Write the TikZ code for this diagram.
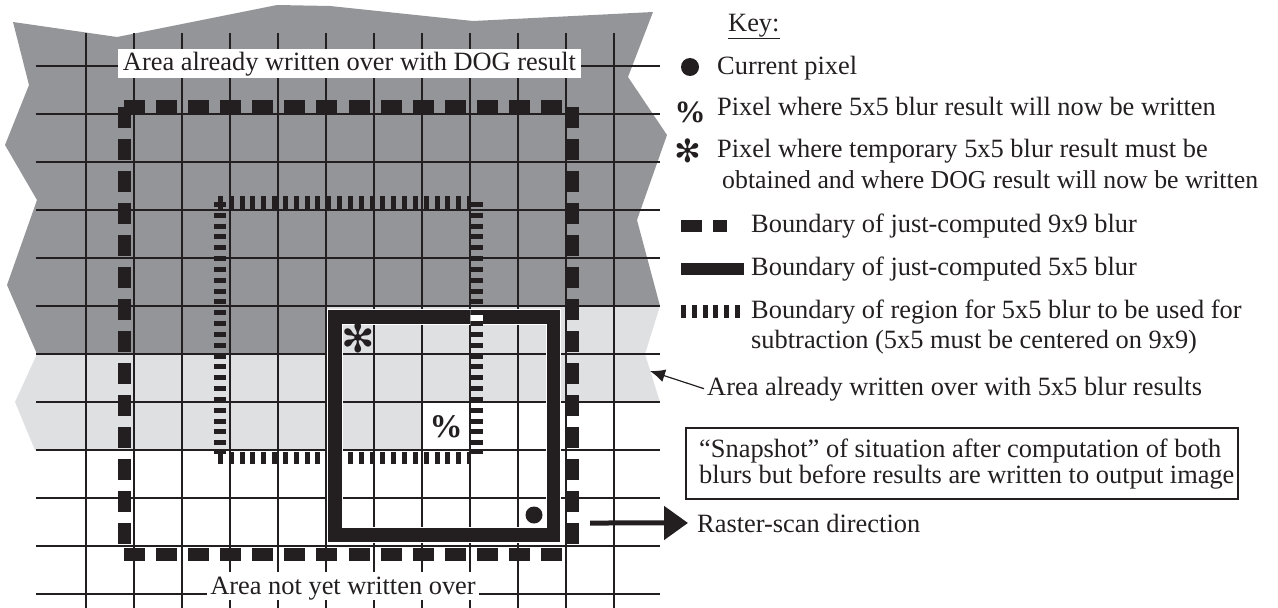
\documentclass[tikz,border=0pt]{standalone}
\usepackage{fontspec}
\setmainfont{Liberation Serif}
\newfontfamily\symfont{DejaVu Sans}
\usetikzlibrary{arrows.meta,calc}
\definecolor{ink}{HTML}{231F20}
\definecolor{dgray}{HTML}{939598}
\definecolor{lgray}{HTML}{DFE0E2}
\begin{document}
\begin{tikzpicture}[x=1pt,y=-1pt,
  every node/.style={inner sep=0pt, text=ink},
  txt/.style={font=\fontsize{26.4}{30}\selectfont, anchor=base west},
  gridline/.style={draw=ink, line width=1.4pt},
  ninebox/.style={draw=ink, line width=13pt, dash pattern=on 21pt off 11.08pt},
  ninevert/.style={draw=ink, line width=13pt, dash pattern=on 20.5pt off 11.5pt},
  hatchbox/.style={draw=ink, line width=12.5pt, dash pattern=on 5pt off 5.83pt},
  fivebox/.style={draw=ink, line width=13.5pt},
  whitelab/.style={txt, anchor=base, fill=white},
]
\useasboundingbox (0,0) rectangle (1278,608);

% shaded areas
\fill[dgray] (13,22) -- (117,37) -- (277,5) -- (330,6) -- (473,21) -- (653,12)
  -- (628,77) -- (667,135) -- (637,220) -- (660,306) -- (326,306) -- (326,354)
  -- (37,354) -- (7,285) -- (37,200) -- (5,145) -- (29,85) -- cycle;
\fill[lgray] (37,354) -- (326,354) -- (326,306) -- (660,306) -- (645,354)
  -- (660,402) -- (422,402) -- (422,450) -- (35,450) -- (15,402) -- cycle;

% grid
\foreach \x in {86,134,...,614} \draw[gridline] (\x,33) -- (\x,608);
\foreach \y in {66,114,...,594} \draw[gridline] (36,\y) -- (660,\y);

% 5x5 region centred on 9x9 (hatched)
\draw[hatchbox] (218,202.5) -- (470,202.5);
\draw[hatchbox] (218,458) -- (470,458);
\draw[hatchbox] (220,202) -- (220,454);
\draw[hatchbox] (476.5,202) -- (476.5,454);

% 9x9 boundary (dashed)
\draw[ninebox] (124,106.5) -- (562,106.5);
\draw[ninebox] (124,554.5) -- (562,554.5);
\draw[ninevert] (124.5,107) -- (124.5,544);
\draw[ninevert] (572.5,107) -- (572.5,544);

% 5x5 just computed (solid)
\draw[white, line width=15.5pt] (335,317) rectangle (553.5,535);
\draw[fivebox] (335,317) rectangle (553.5,535);
% hatched side passes over the top of the solid box
\begin{scope}
  \clip (470.25,309) rectangle (482.75,325);
  \fill[white] (470.25,309) rectangle (482.75,325);
  \draw[hatchbox] (476.5,202) -- (476.5,454);
\end{scope}

% symbols in grid
\node[font=\symfont\fontsize{40}{40}\selectfont] (ast) at (358,338) {✻};
\node[font=\bfseries\fontsize{33}{33}\selectfont] (pct) at (446,427) {\%};
\node[circle, fill=ink, minimum size=17pt] (cur) at (534,515) {};

% labels in grid
\node[whitelab, inner xsep=5pt, text height=21pt, text depth=8pt] (toplab) at (349.5,70) {Area already written over with DOG result};
\node[whitelab, inner xsep=3pt, text height=22pt, text depth=6pt] (botlab) at (343,594) {Area not yet written over};

% key
\node[txt] (keyt) at (728,31) {\underline{Key:}};
\node[circle, fill=ink, minimum size=18pt] (kdot) at (690,67) {};
\node[txt] (k1) at (717,74) {Current pixel};
\node[font=\bfseries\fontsize{31}{31}\selectfont] (kpct) at (690,112) {\%};
\node[txt] (k2) at (717,115) {Pixel where 5x5 blur result will now be written};
\node[font=\symfont\fontsize{32}{32}\selectfont] (kast) at (688,151) {✻};
\node[txt] (k3a) at (717,157) {Pixel where temporary 5x5 blur result must be};
\node[txt, font=\fontsize{25.8}{30}\selectfont] (k3b) at (722,188) {obtained and where DOG result will now be written};
\coordinate (k4s) at (681,226); \coordinate (k4e) at (727,226);
\draw[ninebox, line width=12.5pt] (k4s) -- (k4e);
\node[txt] (k4) at (751,232) {Boundary of just-computed 9x9 blur};
\coordinate (k5s) at (681,269); \coordinate (k5e) at (744,269);
\draw[fivebox, line width=12.5pt] (k5s) -- (k5e);
\node[txt] (k5) at (751,275) {Boundary of just-computed 5x5 blur};
\coordinate (k6s) at (681,311.5); \coordinate (k6e) at (741,311.5);
\draw[hatchbox, line width=13pt] (k6s) -- (k6e);
\node[txt] (k6a) at (751,318) {Boundary of region for 5x5 blur to be used for};
\node[txt] (k6b) at (751,348) {subtraction (5x5 must be centered on 9x9)};

\node[txt, inner xsep=3pt] (k7) at (704,395) {Area already written over with 5x5 blur results};
\coordinate (lgtip) at (650,371);
\draw[ink, line width=1.2pt, -{Latex[length=15pt,width=13pt]}] (k7.west) -- (lgtip);

% snapshot box
\coordinate (snapnw) at (686,428); \coordinate (snapse) at (1238,499);
\draw[ink, line width=1.2pt] (snapnw) rectangle (snapse);
\node[txt] (s1) at (699,457) {“Snapshot” of situation after computation of both};
\node[txt] (s2) at (699,483) {blurs but before results are written to output image};

% raster direction
\coordinate (rs) at (590,523);
\node[txt, inner xsep=9pt] (rtext) at (688,532) {Raster-scan direction};
\draw[ink, line width=5pt, -{Triangle[length=24pt,width=33pt]}] (rs) -- (rtext.west);
\end{tikzpicture}
\end{document}
